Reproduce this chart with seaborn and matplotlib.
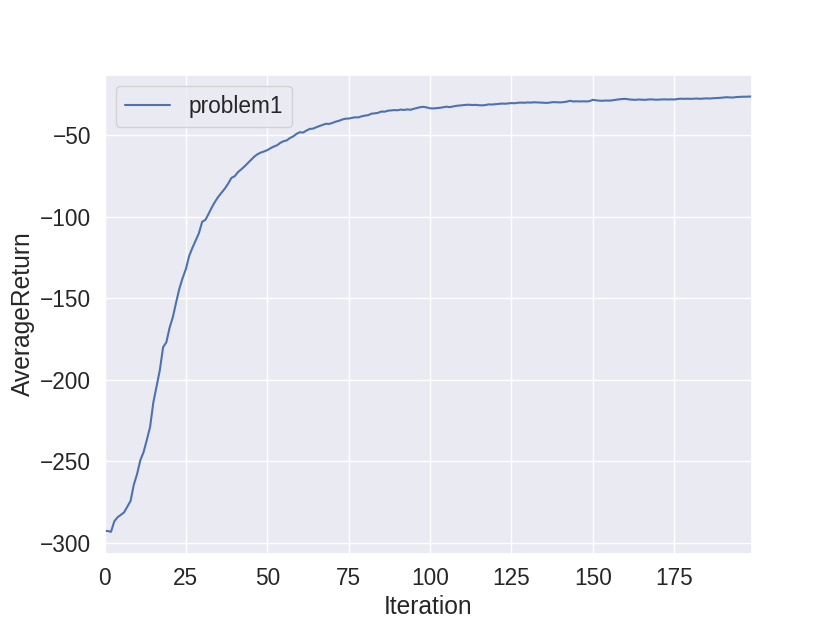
import matplotlib
matplotlib.use("Agg")
import matplotlib.pyplot as plt
import seaborn as sns
import pandas as pd
import numpy as np

iterations = list(range(200))
average_return = [
    -292.8, -292.9, -293.4, -287.0, -284.5, -283.0, -281.5, -278.0, -274.5, -264.5,
    -258.0, -249.5, -244.5, -237.0, -229.0, -214.0, -204.0, -194.0, -180.0, -177.0,
    -168.0, -161.5, -152.5, -144.0, -137.5, -132.0, -124.0, -119.0, -114.5, -110.0,
    -103.0, -101.8, -98.0, -94.0, -90.5, -87.5, -85.0, -82.5, -79.5, -76.0,
    -75.0, -72.5, -70.8, -69.0, -67.0, -65.0, -63.0, -61.5, -60.5, -59.8,
    -59.0, -57.8, -56.8, -56.0, -54.5, -53.5, -53.0, -51.5, -50.5, -49.0,
    -48.0, -48.2, -47.0, -46.0, -45.8, -45.0, -44.2, -43.5, -42.8, -42.9,
    -42.3, -41.5, -41.0, -40.2, -39.7, -39.6, -39.2, -38.8, -38.9, -38.2,
    -37.8, -37.5, -36.6, -36.4, -36.1, -35.3, -35.4, -34.8, -34.6, -34.4,
    -34.5, -34.1, -34.3, -34.0, -34.2, -33.6, -33.1, -32.6, -32.4, -32.8,
    -33.3, -33.4, -33.2, -33.0, -32.7, -32.3, -32.6, -32.2, -31.8, -31.6,
    -31.4, -31.2, -31.1, -31.3, -31.2, -31.4, -31.5, -31.3, -30.9, -31.0,
    -30.8, -30.6, -30.4, -30.5, -30.3, -30.1, -30.2, -29.9, -29.8, -29.9,
    -29.7, -29.8, -29.6, -29.7, -29.8, -29.9, -30.0, -29.7, -29.5, -29.6,
    -29.7, -29.5, -29.2, -28.7, -29.1, -29.0, -29.1, -29.0, -29.1, -28.9,
    -28.1, -28.4, -28.6, -28.7, -28.5, -28.6, -28.4, -28.1, -27.8, -27.6,
    -27.5, -27.8, -28.0, -28.1, -27.9, -28.0, -28.1, -27.9, -27.8, -28.0,
    -28.0, -27.9, -27.8, -27.9, -27.8, -27.9, -27.6, -27.4, -27.5, -27.4,
    -27.5, -27.4, -27.3, -27.5, -27.3, -27.2, -27.3, -27.1, -27.0, -26.9,
    -26.7, -26.5, -26.6, -26.7, -26.4, -26.3, -26.2, -26.2, -26.1, -26.0,
]
series_name = "problem1"

sns.set_theme(style="darkgrid", font_scale=1.48)
plt.rcParams["font.family"] = ["Liberation Sans", "DejaVu Sans"]

df = pd.DataFrame({"Iteration": iterations, "AverageReturn": average_return})

fig, ax = plt.subplots(figsize=(8.36, 6.22), dpi=100)
sns.lineplot(data=df, x="Iteration", y="AverageReturn", label=series_name, ax=ax)
ax.set_xlim(0, 199)
ax.legend(loc="upper left")
fig.savefig("out.png", dpi=100)
